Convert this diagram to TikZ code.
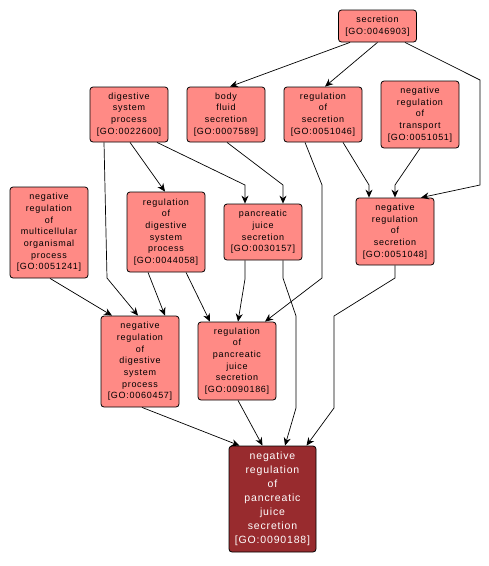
\documentclass[tikz,border=0pt]{standalone}
\usepackage{fontspec}
\setmainfont{Liberation Sans}
\newfontfamily\gofont[LetterSpace=8]{Liberation Sans}
\usetikzlibrary{arrows.meta}
\definecolor{goterm}{HTML}{FF8A85}
\definecolor{goquery}{HTML}{982B2E}

\begin{document}
\begin{tikzpicture}[x=1pt,y=-1pt,
  term/.style={draw=black,fill=goterm,rounded corners=3pt,line width=0.8pt,
    minimum width=78pt,inner sep=0pt,align=center,
    font=\gofont\fontsize{9}{11.7}\selectfont},
  query/.style={term,fill=goquery,text=white,minimum width=87pt,
    font=\gofont\fontsize{10.5}{14}\selectfont},
  edge/.style={line width=0.7pt,-{Stealth[length=8pt,width=7pt]}}]
  \useasboundingbox (0,0) rectangle (489,566);
  % Terms
  \node[term,minimum height=32pt] (secr) at (377.5,26) {secretion\\{[GO:0046903]}};
  \node[term,minimum height=55pt] (dsp) at (129,114.5) {digestive\\system\\process\\{[GO:0022600]}};
  \node[term,minimum height=55pt] (bfs) at (226,114.5) {body\\fluid\\secretion\\{[GO:0007589]}};
  \node[term,minimum height=55pt] (rsec) at (323,114.5) {regulation\\of\\secretion\\{[GO:0051046]}};
  \node[term,minimum height=67pt] (nrt) at (420,114.5) {negative\\regulation\\of\\transport\\{[GO:0051051]}};
  \node[term,minimum height=91pt] (nrmop) at (49,232.5) {negative\\regulation\\of\\multicellular\\organismal\\process\\{[GO:0051241]}};
  \node[term,minimum height=80pt] (rdsp) at (166,232) {regulation\\of\\digestive\\system\\process\\{[GO:0044058]}};
  \node[term,minimum height=56pt] (pjs) at (263,232) {pancreatic\\juice\\secretion\\{[GO:0030157]}};
  \node[term,minimum height=67pt] (nrs) at (395,231.5) {negative\\regulation\\of\\secretion\\{[GO:0051048]}};
  \node[term,minimum height=91pt] (nrdsp) at (140,361.5) {negative\\regulation\\of\\digestive\\system\\process\\{[GO:0060457]}};
  \node[term,minimum height=78pt] (rpjs) at (237,361) {regulation\\of\\pancreatic\\juice\\secretion\\{[GO:0090186]}};
  \node[query,minimum height=106pt] (nrpjs) at (272.5,499) {negative\\regulation\\of\\pancreatic\\juice\\secretion\\{[GO:0090188]}};
  % Edges
  \draw[edge] ([xshift=-27.5pt]secr.south) -- ([xshift=4pt]bfs.north);
  \draw[edge] (secr.south) -- ([xshift=2pt]rsec.north);
  \draw[edge] ([xshift=27.5pt]secr.south) -- (480,80) -- (480,185) -- ([xshift=26pt]nrs.north);
  \draw[edge] ([xshift=1pt]dsp.south) -- ([xshift=-1pt]rdsp.north);
  \draw[edge] ([xshift=28pt]dsp.south) -- (245,185) -- ([xshift=-18pt]pjs.north);
  \draw[edge] ([xshift=-25pt]dsp.south) -- (107,278) -- ([xshift=-2pt]nrdsp.north);
  \draw[edge] ([xshift=1pt]bfs.south) -- (283,185) -- ([xshift=20pt]pjs.north);
  \draw[edge] ([xshift=20pt]rsec.south) -- (369,185) -- ([xshift=-26pt]nrs.north);
  \draw[edge] ([xshift=-18pt]rsec.south) -- (322,185) -- (322,278) -- ([xshift=28pt]rpjs.north);
  \draw[edge] (nrt.south) -- (395,185) -- (nrs.north);
  \draw[edge] ([xshift=1pt]nrmop.south) -- ([xshift=-28pt]nrdsp.north);
  \draw[edge] ([xshift=-18pt]rdsp.south) -- ([xshift=25pt]nrdsp.north);
  \draw[edge] ([xshift=20pt]rdsp.south) -- ([xshift=-27pt]rpjs.north);
  \draw[edge] ([xshift=-18pt]pjs.south) -- (245,279) -- ([xshift=1pt]rpjs.north);
  \draw[edge] ([xshift=20pt]pjs.south) -- (283,278) -- (296,316) -- (296,408) -- ([xshift=12.5pt]nrpjs.north);
  \draw[edge] (nrs.south) -- (395,278) -- (334,316) -- (334,408) -- ([xshift=34pt]nrpjs.north);
  \draw[edge] ([xshift=2pt]nrdsp.south) -- ([xshift=-33pt]nrpjs.north);
  \draw[edge] ([xshift=1pt]rpjs.south) -- ([xshift=-10pt]nrpjs.north);
\end{tikzpicture}
\end{document}
